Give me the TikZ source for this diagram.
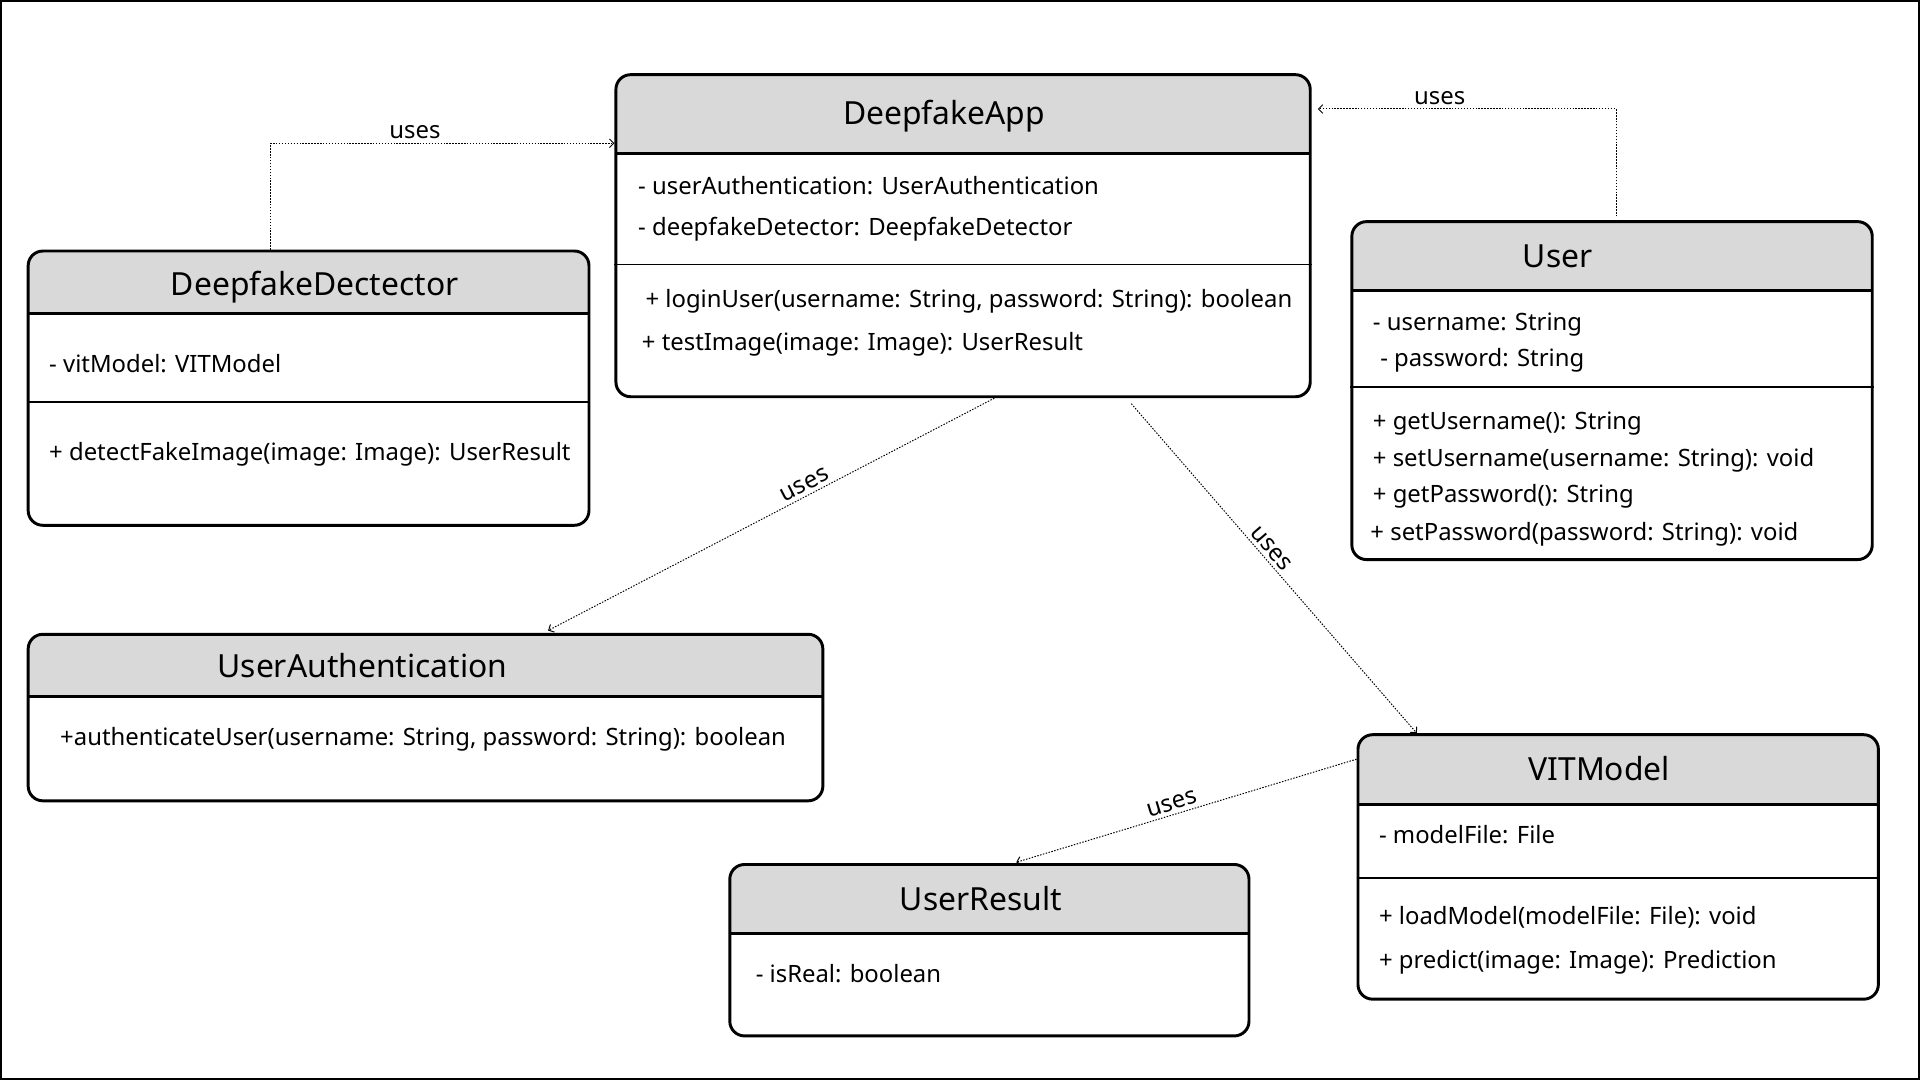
\documentclass[tikz,border=0pt]{standalone}
\usepackage{fontspec}
\setmainfont{Noto Sans}
\usepackage{xcolor}
\usetikzlibrary{arrows.meta}
\definecolor{hdrgray}{HTML}{D9D9D9}

\begin{document}
\begin{tikzpicture}[x=1pt,y=1pt,
  classbox/.style={draw, line width=2.4pt, rounded corners=12pt, fill=white, inner sep=0pt},
  hdr/.style={path picture={
    \fill[hdrgray, sharp corners] (path picture bounding box.north west) rectangle ([yshift=-#1]path picture bounding box.north east);
    \draw[line width=2.4pt, sharp corners] ([yshift=-#1]path picture bounding box.north west) -- ([yshift=-#1]path picture bounding box.north east);}},
  divider/.style={line width=1.6pt},
  title/.style={inner sep=0pt, text height=18.6pt, text depth=0pt, font=\fontsize{26}{30}\selectfont},
  member/.style={anchor=west, inner sep=0pt, text height=14pt, text depth=0pt, font=\fontsize{19.5}{23}\selectfont},
  uses/.style={line width=0.8pt, dash pattern=on 1.2pt off 1.2pt, -{Straight Barb[length=3.5pt, width=7pt]}},
  useslabel/.style={inner sep=3pt, font=\fontsize{19.5}{23}\selectfont}]
\useasboundingbox (0,0) rectangle (1568,-882);
\draw[line width=1.5pt] (0.75,-0.75) rectangle (1567.25,-881.25);

\node[classbox, hdr=64pt, minimum width=567, minimum height=263] (app) at (786.5,-192.5) {};
\draw[divider] (app.west |- 0,-216) -- (app.east |- 0,-216);
\node[title] (appT) at (771,-92) {DeepfakeApp};
\node[member] (appA1) at (521,-152) {- userAuthentication: UserAuthentication};
\node[member] (appA2) at (521,-185) {- deepfakeDetector: DeepfakeDetector};
\node[member] (appM1) at (527,-244) {+ loginUser(username: String, password: String): boolean};
\node[member] (appM2) at (524,-279) {+ testImage(image: Image): UserResult};

\node[classbox, hdr=51pt, minimum width=458, minimum height=224] (det) at (252,-317) {};
\draw[divider] (det.west |- 0,-328) -- (det.east |- 0,-328);
\node[title] (detT) at (257,-232) {DeepfakeDectector};
\node[member] (detA1) at (40,-297) {- vitModel: VITModel};
\node[member] (detM1) at (40,-369) {+ detectFakeImage(image: Image): UserResult};

\node[classbox, hdr=56pt, minimum width=425, minimum height=276] (usr) at (1316.5,-319) {};
\draw[divider] (usr.west |- 0,-316) -- (usr.east |- 0,-316);
\node[title] (usrT) at (1272,-209) {User};
\node[member] (usrA1) at (1121,-263) {- username: String};
\node[member] (usrA2) at (1127,-292) {- password: String};
\node[member] (usrM1) at (1121,-344) {+ getUsername(): String};
\node[member] (usrM2) at (1121,-374) {+ setUsername(username: String): void};
\node[member] (usrM3) at (1121,-403) {+ getPassword(): String};
\node[member] (usrM4) at (1119,-434) {+ setPassword(password: String): void};

\node[classbox, hdr=51pt, minimum width=649, minimum height=136] (auth) at (347.5,-586) {};
\node[title] (authT) at (296,-544) {UserAuthentication};
\node[member] (authM1) at (49,-602) {+authenticateUser(username: String, password: String): boolean};

\node[classbox, hdr=57pt, minimum width=425, minimum height=216] (vit) at (1321.5,-708) {};
\draw[divider] (vit.west |- 0,-717) -- (vit.east |- 0,-717);
\node[title] (vitT) at (1306,-628) {VITModel};
\node[member] (vitA1) at (1126,-682) {- modelFile: File};
\node[member] (vitM1) at (1126,-748) {+ loadModel(modelFile: File): void};
\node[member] (vitM2) at (1126,-784) {+ predict(image: Image): Prediction};

\node[classbox, hdr=56pt, minimum width=424, minimum height=140] (res) at (808,-776) {};
\node[title] (resT) at (801,-734) {UserResult};
\node[member] (resA1) at (617,-795) {- isReal: boolean};

\draw[uses] (det.north -| 221,0) |- (app.west |- 0,-117) node[useslabel, pos=0.71, above] (u1) {uses};
\draw[uses, shorten <=3pt, shorten >=5pt] (usr.north -| 1320,0) |- (app.east |- 0,-89) node[useslabel, pos=0.79, above] (u2) {uses};
\draw[uses, shorten >=4pt] (app.south -| 812,0) -- (auth.north -| 444,0) node[useslabel, pos=0.41, above, sloped] (u3) {uses};
\draw[uses, shorten <=6pt] (app.south -| 920,0) -- (vit.north -| 1157,0) node[useslabel, pos=0.47, above, sloped] (u4) {uses};
\draw[uses, shorten >=2pt] (vit.west |- 0,-620) -- (res.north -| 828,0) node[useslabel, pos=0.53, above, sloped] (u5) {uses};
\end{tikzpicture}
\end{document}
